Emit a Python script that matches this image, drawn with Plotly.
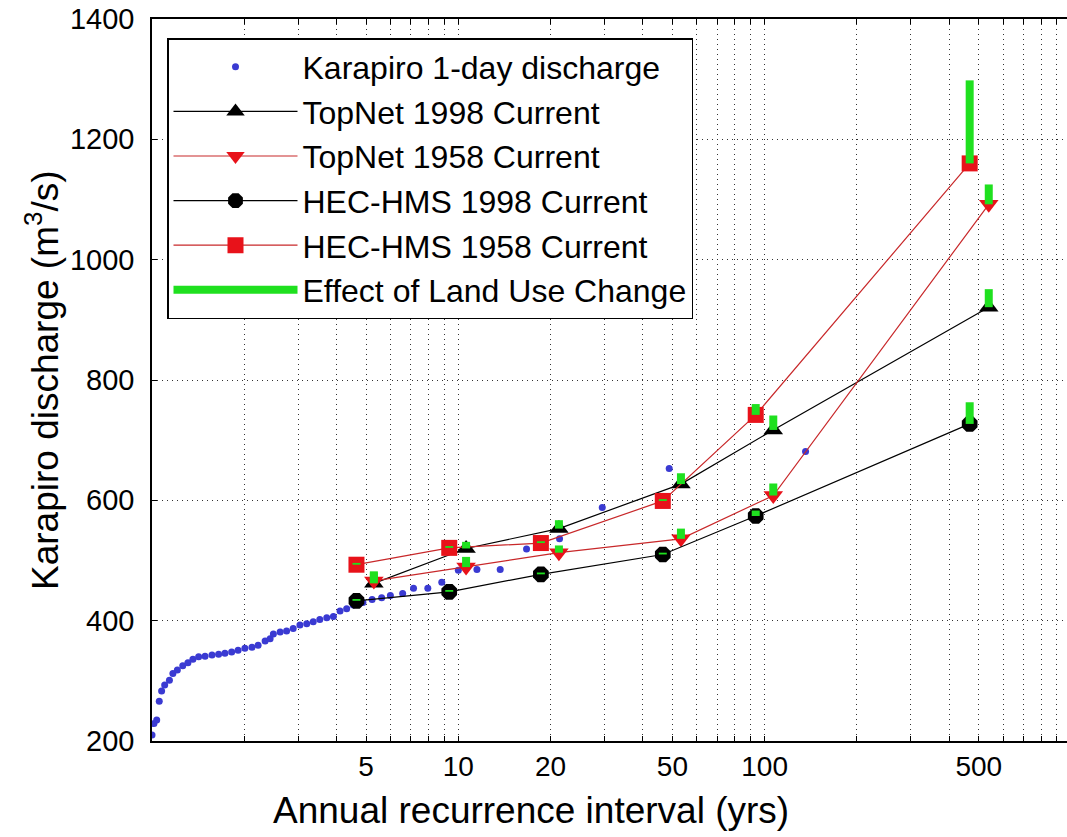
import plotly.graph_objects as go

# ---- data ----
obs_ari = [1.0, 1.015, 1.036, 1.056, 1.075, 1.10, 1.14, 1.17, 1.21, 1.26, 1.31, 1.36, 1.42,
           1.49, 1.57, 1.65, 1.73, 1.82, 1.91, 2.01, 2.12, 2.22, 2.34, 2.43, 2.49, 2.62,
           2.75, 2.89, 3.04, 3.20, 3.36, 3.53, 3.72, 3.91, 4.11, 4.32, 4.54, 4.88, 5.23,
           5.62, 6.0, 6.58, 7.14, 7.95, 8.83, 10.0, 11.5, 13.7, 16.7, 21.4, 29.5, 48.8, 136]
obs_q = [210, 229, 235, 266, 283, 293, 301, 312, 318, 325, 330, 336, 340,
         341, 343, 344, 346, 348, 351, 354, 356, 359, 366, 370, 378, 381,
         383, 387, 393, 395, 398, 402, 405, 407, 416, 420, 426, 430, 435,
         438, 442, 445, 454, 454, 464, 484, 485, 485, 519, 536, 588, 653, 681]

topnet_ari = [5.3, 10.6, 21.3, 53.3, 106.7, 539]
hec_ari = [4.65, 9.34, 18.6, 46.5, 93.5, 467]

topnet1998 = [462, 520, 553, 627, 717, 921]
topnet1958 = [466, 489, 513, 536, 608, 1092]
hec1998 = [433, 448, 477, 510, 574, 727]
hec1958 = [493, 521, 529, 599, 742, 1160]

# values with the land use change applied (top of green bars)
topnet1998_luc = [480, 531, 567, 645, 741, 951]
topnet1958_luc = [482, 506, 525, 553, 628, 1125]
hec1998_luc = [436, 451, 480, 513, 583, 763]
hec1958_luc = [496, 524, 532, 602, 760, 1298]

x_labels = {5: "5", 10: "10", 20: "20", 50: "50", 100: "100", 500: "500"}
y_ticks = [200, 400, 600, 800, 1000, 1200, 1400]

# ---- figure ----
RED = "#e8121a"
GREEN = "#1fe01f"
BLUE = "#3a3ad2"
FONT = "Liberation Sans, Arial, sans-serif"

fig = go.Figure()

fig.add_trace(go.Scatter(x=obs_ari, y=obs_q, mode="markers", name="Karapiro 1-day discharge",
                         marker=dict(color=BLUE, size=7), legendgroup="a"))
fig.add_trace(go.Scatter(x=topnet_ari, y=topnet1998, mode="lines+markers", name="TopNet 1998 Current",
                         line=dict(color="black", width=1.2),
                         marker=dict(symbol="triangle-up", size=17, color="black"), legendgroup="b"))
fig.add_trace(go.Scatter(x=topnet_ari, y=topnet1958, mode="lines+markers", name="TopNet 1958 Current",
                         line=dict(color="#c8282a", width=1.2),
                         marker=dict(symbol="triangle-down", size=17, color=RED), legendgroup="c"))
fig.add_trace(go.Scatter(x=hec_ari, y=hec1998, mode="lines+markers", name="HEC-HMS 1998 Current",
                         line=dict(color="black", width=1.2),
                         marker=dict(symbol="octagon", size=17, color="black"), legendgroup="d"))
fig.add_trace(go.Scatter(x=hec_ari, y=hec1958, mode="lines+markers", name="HEC-HMS 1958 Current",
                         line=dict(color="#c8282a", width=1.2),
                         marker=dict(symbol="square", size=16, color=RED), legendgroup="e"))

# green bars: from modelled value to land-use-change value
gx, gy = [], []
for xs, a, b in [(topnet_ari, topnet1998, topnet1998_luc), (topnet_ari, topnet1958, topnet1958_luc),
                 (hec_ari, hec1998, hec1998_luc), (hec_ari, hec1958, hec1958_luc)]:
    for xi, ai, bi in zip(xs, a, b):
        gx += [xi, xi, None]
        gy += [ai, bi, None]
fig.add_trace(go.Scatter(x=gx, y=gy, mode="lines", name="Effect of Land Use Change",
                         line=dict(color=GREEN, width=8), legendgroup="f"))

# tick positions on log axis (every 1..9 per decade)
tickvals = [m * d for d in (1, 10, 100) for m in range(1, 10)]
ticktext = [x_labels.get(v, "") for v in tickvals]

W, H = 1067, 837
L, T = 152, 19          # plot left/top (body margin removed below)
PW, PH = 915, 722       # plot width/height
R = W - L - PW
B = H - T - PH

fig.update_xaxes(type="log", range=[0, 2.987], tickvals=tickvals, ticktext=ticktext,
                 showgrid=True, gridcolor="#333333", griddash="1px,4px", gridwidth=1,
                 showline=True, linecolor="black", linewidth=1.5, mirror="ticks",
                 ticks="inside", ticklen=5, tickcolor="black",
                 tickfont=dict(family=FONT, size=28, color="black"), zeroline=False)
fig.update_yaxes(range=[200, 1400], tickvals=y_ticks,
                 showgrid=True, gridcolor="#333333", griddash="1px,4px", gridwidth=1,
                 showline=True, linecolor="black", linewidth=1.5, mirror=False,
                 ticks="inside", ticklen=5, tickcolor="black", ticklabelstandoff=10,
                 tickfont=dict(family=FONT, size=29, color="black"), zeroline=False)

fig.update_layout(
    width=W, height=H,
    margin=dict(l=L, r=R, t=T, b=B),
    plot_bgcolor="white", paper_bgcolor="white",
    font=dict(family=FONT, color="black"),
    legend=dict(x=15 / PW, y=1 - 19 / PH, xanchor="left", yanchor="top",
                bgcolor="white", bordercolor="black", borderwidth=1.5,
                font=dict(family=FONT, size=32, color="black"),
                itemwidth=124, tracegroupgap=0, traceorder="grouped"),
    annotations=[
        dict(text="Annual recurrence interval (yrs)", xref="paper", yref="paper",
             x=(531 - 152) / PW, y=-69 / PH, xanchor="center", yanchor="middle",
             showarrow=False, font=dict(family=FONT, size=37, color="black")),
        dict(text="Karapiro discharge (m<sup>3</sup>/s)", xref="paper", yref="paper",
             x=(42 - 152) / PW, y=0.5, xanchor="center", yanchor="middle", textangle=-90,
             showarrow=False, font=dict(family=FONT, size=37, color="black")),
    ],
)

fig.write_html("out.html", config={"displayModeBar": False},
               post_script="document.body.style.margin='0px';document.body.style.overflow='hidden';")
